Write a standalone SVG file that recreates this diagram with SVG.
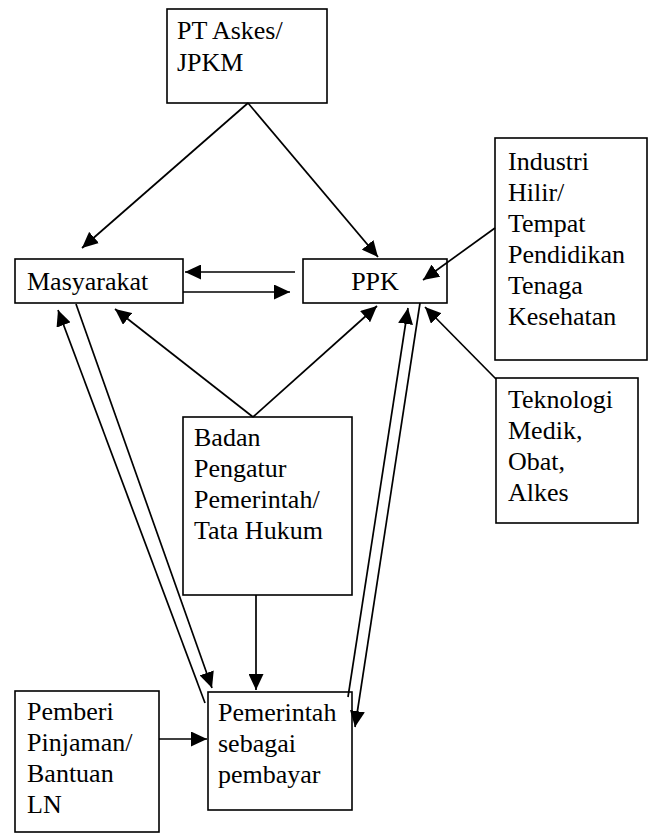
<svg xmlns="http://www.w3.org/2000/svg" width="648" height="834" viewBox="0 0 648 834">
<style>
rect{fill:#fff;stroke:#000;stroke-width:1.6}
text{font-family:"Liberation Serif","Times New Roman",serif;font-size:26px;fill:#000}
#connectors line{stroke:#000;stroke-width:1.7;fill:none}
.a{marker-end:url(#arr)}
</style>
<defs>
<marker id="arr" viewBox="0 0 16 15" refX="16" refY="7.5" markerWidth="16" markerHeight="15" markerUnits="userSpaceOnUse" orient="auto">
<path d="M0,0 L16,7.5 L0,15 Z" fill="#000"/>
</marker>
</defs>
<rect x="0" y="0" width="648" height="834" style="stroke:none;fill:#fff"/>
<g id="pt-askes">
<rect x="167" y="9" width="160" height="94"/>
<text x="177" y="39">PT Askes/</text>
<text x="177" y="71">JPKM</text>
</g>
<g id="masyarakat">
<rect x="15" y="259" width="168" height="44"/>
<text x="27" y="290">Masyarakat</text>
</g>
<g id="ppk">
<rect x="303" y="259" width="144" height="44"/>
<text x="375" y="290" text-anchor="middle">PPK</text>
</g>
<g id="industri">
<rect x="495" y="138" width="152" height="222"/>
<text x="508" y="170">Industri</text>
<text x="508" y="201">Hilir/</text>
<text x="508" y="232">Tempat</text>
<text x="508" y="263">Pendidikan</text>
<text x="508" y="294">Tenaga</text>
<text x="508" y="325">Kesehatan</text>
</g>
<g id="teknologi">
<rect x="496" y="378" width="142" height="145"/>
<text x="508" y="408">Teknologi</text>
<text x="508" y="439">Medik,</text>
<text x="508" y="470">Obat,</text>
<text x="508" y="501">Alkes</text>
</g>
<g id="badan">
<rect x="183" y="417" width="169" height="178"/>
<text x="194" y="446">Badan</text>
<text x="194" y="477">Pengatur</text>
<text x="194" y="508">Pemerintah/</text>
<text x="194" y="539">Tata Hukum</text>
</g>
<g id="pemerintah">
<rect x="208" y="692" width="144" height="118"/>
<text x="218" y="721">Pemerintah</text>
<text x="218" y="752">sebagai</text>
<text x="218" y="783">pembayar</text>
</g>
<g id="pemberi">
<rect x="15" y="691" width="144" height="141"/>
<text x="27" y="720">Pemberi</text>
<text x="27" y="751">Pinjaman/</text>
<text x="27" y="782">Bantuan</text>
<text x="27" y="813">LN</text>
</g>
<g id="connectors">
<line class="a" x1="248" y1="103" x2="82" y2="248"/>
<line class="a" x1="248" y1="103" x2="378" y2="257"/>
<line class="a" x1="295" y1="272" x2="185" y2="272"/>
<line class="a" x1="183" y1="292" x2="290" y2="292"/>
<line class="a" x1="495" y1="228" x2="423" y2="280"/>
<line class="a" x1="496" y1="379" x2="425" y2="307"/>
<line class="a" x1="253" y1="417" x2="115" y2="309"/>
<line class="a" x1="253" y1="417" x2="377" y2="306"/>
<line class="a" x1="205" y1="703" x2="58" y2="310"/>
<line class="a" x1="76" y1="304" x2="212" y2="688"/>
<line class="a" x1="348" y1="697" x2="408" y2="308"/>
<line class="a" x1="420" y1="303" x2="355" y2="727"/>
<line class="a" x1="256" y1="595" x2="256" y2="690"/>
<line class="a" x1="159" y1="739" x2="207" y2="739"/>
</g>
</svg>
